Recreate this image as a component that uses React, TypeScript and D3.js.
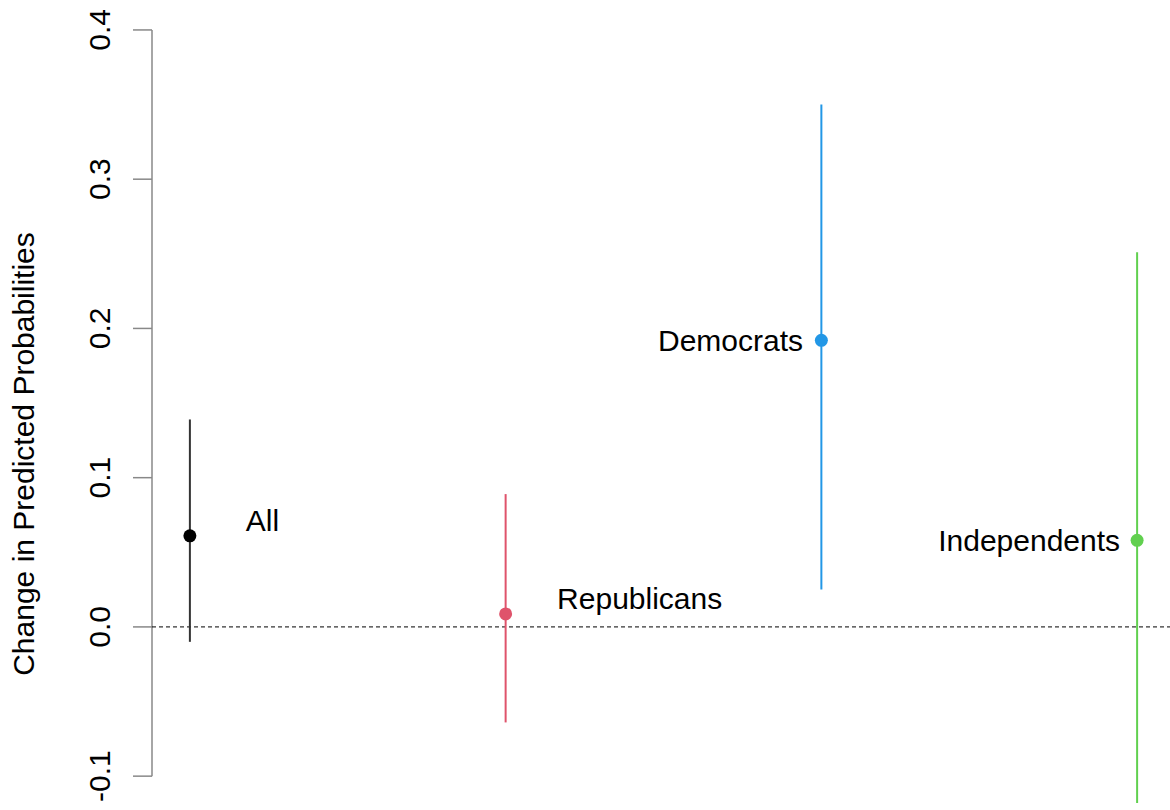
import React from "react";
import * as d3 from "d3";

const groups = ["All", "Republicans", "Democrats", "Independents"];
const estimates = [0.061, 0.0087, 0.192, 0.058];
const lowers = [-0.01, -0.064, 0.025, -0.118];
const uppers = [0.139, 0.089, 0.35, 0.251];
const colors = ["#000000", "#DF536B", "#2297E6", "#61D04F"];
const labelX = [1.177, 2.163, 2.942, 3.946];
const labelY = [0.071, 0.0188, 0.192, 0.058];
const labelSide = ["right", "right", "left", "left"];
const yTicks = [-0.1, 0.0, 0.1, 0.2, 0.3, 0.4];
const yTitle = "Change in Predicted Probabilities";

const W = 1170;
const H = 810;
const FONT = "'Liberation Sans', Arial, Helvetica, sans-serif";
const fmt = d3.formatLocale({ decimal: ".", thousands: ",", grouping: [3], currency: ["", ""], minus: "-" }).format(".1f");

export default function App() {
  const x = d3.scaleLinear().domain([0.88, 4.12]).range([152, 1175]);
  const y = d3.scaleLinear().domain([-0.12, 0.42]).range([806, 0.1]);
  const axisX = x(0.88);

  return (
    <svg
      width={W}
      height={H}
      style={{ position: "absolute", left: 0, top: 0, background: "#fff" }}
      fontFamily={FONT}
    >
      <defs>
        <clipPath id="plotclip">
          <rect x={axisX} y={y(0.42)} width={x(4.12) - axisX} height={y(-0.12) - y(0.42)} />
        </clipPath>
      </defs>
      {/* y axis */}
      <line x1={axisX} x2={axisX} y1={y(0.4)} y2={y(-0.1)} stroke="#888" strokeWidth={1.5} />
      {yTicks.map((t) => (
        <g key={t}>
          <line x1={axisX - 19} x2={axisX} y1={y(t)} y2={y(t)} stroke="#888" strokeWidth={1.5} />
          <text
            transform={`translate(110,${y(t)}) rotate(-90)`}
            textAnchor="middle"
            fontSize={30}
            fill="#000"
          >
            {fmt(t)}
          </text>
        </g>
      ))}
      <text
        transform={`translate(34,${454}) rotate(-90)`}
        textAnchor="middle"
        fontSize={30}
        fill="#000"
      >
        {yTitle}
      </text>
      <g clipPath="url(#plotclip)">
        {/* zero reference line */}
        <line
          x1={axisX}
          x2={W}
          y1={y(0)}
          y2={y(0)}
          stroke="#000"
          strokeWidth={1}
          strokeDasharray="4,3"
        />
        {groups.map((g, i) => (
          <g key={g}>
            <line
              x1={x(i + 1)}
              x2={x(i + 1)}
              y1={y(lowers[i])}
              y2={y(uppers[i])}
              stroke={i === 0 ? "#333" : colors[i]}
              strokeWidth={2}
            />
            <circle cx={x(i + 1)} cy={y(estimates[i])} r={6.5} fill={colors[i]} />
          </g>
        ))}
      </g>
      {groups.map((g, i) => (
        <text
          key={g + "-label"}
          x={x(labelX[i])}
          y={y(labelY[i])}
          dy="0.35em"
          textAnchor={labelSide[i] === "right" ? "start" : "end"}
          fontSize={30}
          fill="#000"
        >
          {g}
        </text>
      ))}
    </svg>
  );
}
